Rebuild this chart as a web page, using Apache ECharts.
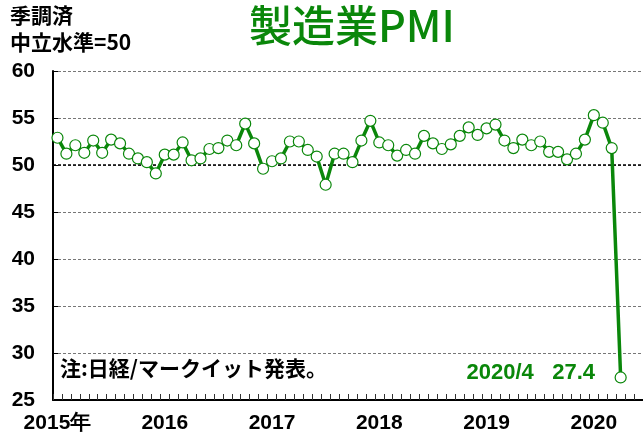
<!DOCTYPE html>
<html>
<head>
<meta charset="utf-8">
<script src="https://cdn.jsdelivr.net/npm/echarts@6/dist/echarts.min.js"></script>
<style>
  html, body { margin: 0; padding: 0; background: #fff; }
  #chart { width: 643px; height: 442px; }
</style>
</head>
<body>
<div id="chart"></div>
<script>
// 季調済 製造業PMI 2015/1 - 2020/4 (axis runs on to 2020/6)
const years = ['2015', '2016', '2017', '2018', '2019', '2020']
const yearLabels = ['2015年', '2016', '2017', '2018', '2019', '2020']
const extraMonths = 6   // months of 2020 shown on the axis
const pmi = [
  52.9, 51.2, 52.1, 51.3, 52.6, 51.3, 52.7, 52.3, 51.2, 50.7, 50.3, 49.1,
  51.1, 51.1, 52.4, 50.5, 50.7, 51.7, 51.8, 52.6, 52.1, 54.4, 52.3, 49.6,
  50.4, 50.7, 52.5, 52.5, 51.6, 50.9, 47.9, 51.2, 51.2, 50.3, 52.6, 54.7,
  52.4, 52.1, 51.0, 51.6, 51.2, 53.1, 52.3, 51.7, 52.2, 53.1, 54.0, 53.2,
  53.9, 54.3, 52.6, 51.8, 52.7, 52.1, 52.5, 51.4, 51.4, 50.6, 51.2, 52.7,
  55.3, 54.5, 51.8, 27.4
]
const neutral = 50

const months = []
years.forEach((y, i) => {
  const n = i === years.length - 1 ? extraMonths : 12
  for (let m = 1; m <= n; m++) months.push(y + '/' + m)
})

const green = '#0a870a'
const chart = echarts.init(document.getElementById('chart'))
chart.setOption({
  animation: false,
  grid: { left: 53, right: 0, top: 71, bottom: 42, containLabel: false },
  xAxis: [{
    type: 'category',
    data: months,
    boundaryGap: true,
    axisLine: { show: true, onZero: false, lineStyle: { color: '#000', width: 2 } },
    axisTick: { show: false },
    axisLabel: {
      interval: 11,
      margin: 13,
      fontFamily: 'Liberation Sans',
      fontWeight: 'bold',
      fontSize: 21,
      color: '#000',
      formatter: (v, i) => yearLabels[Math.floor(i / 12)]
    },
    splitLine: { show: false }
  }, {
    // month boundary ticks along the bottom
    type: 'value',
    position: 'bottom',
    min: 0,
    max: months.length,
    interval: 1,
    axisLine: { show: false, onZero: false },
    axisTick: { show: true, inside: true, length: 6, lineStyle: { color: '#333', width: 1 } },
    axisLabel: { show: false },
    splitLine: { show: false }
  }],
  yAxis: {
    type: 'value',
    min: 25,
    max: 60,
    interval: 5,
    axisLine: { show: true, lineStyle: { color: '#000', width: 2 } },
    axisTick: { show: true, inside: true, length: 5, lineStyle: { color: '#000' } },
    axisLabel: {
      margin: 18,
      fontFamily: 'Liberation Sans',
      fontWeight: 'bold',
      fontSize: 21,
      color: '#000'
    },
    splitLine: { show: true, lineStyle: { color: '#777', type: [3, 2], width: 1 } }
  },
  series: [{
    type: 'line',
    data: pmi,
    symbol: 'circle',
    symbolSize: 11,
    showSymbol: true,
    showAllSymbol: true,
    itemStyle: { color: '#fff', borderColor: green, borderWidth: 1.2 },
    lineStyle: { color: green, width: 3.5 },
    z: 3,
    markLine: {
      silent: true,
      symbol: 'none',
      label: { show: false },
      lineStyle: { color: '#000', type: [3, 2], width: 1.6 },
      data: [{ yAxis: neutral }],
      z: 2
    }
  }],
  graphic: [
    { type: 'text', left: 10, top: 5, style: { text: '季調済', fontFamily: 'Noto Sans CJK JP', fontWeight: 'bold', fontSize: 21, fill: '#000' } },
    { type: 'text', left: 10, top: 32, style: { text: '中立水準=50', fontFamily: 'Noto Sans CJK JP', fontWeight: 'bold', fontSize: 21, fill: '#000' } },
    { type: 'text', left: 249, top: 4, style: { text: '製造業PMI', fontFamily: 'Noto Sans CJK JP', fontWeight: 500, fontSize: 43, fill: green } },
    { type: 'text', left: 60, top: 358, style: { text: '注:日経/マークイット発表。', fontFamily: 'Noto Sans CJK JP', fontWeight: 'bold', fontSize: 21, fill: '#000' } },
    { type: 'text', right: 48, top: 362, style: { text: '2020/4   27.4', fontFamily: 'Liberation Sans', fontWeight: 'bold', fontSize: 22, fill: green } }
  ]
})
</script>
</body>
</html>
